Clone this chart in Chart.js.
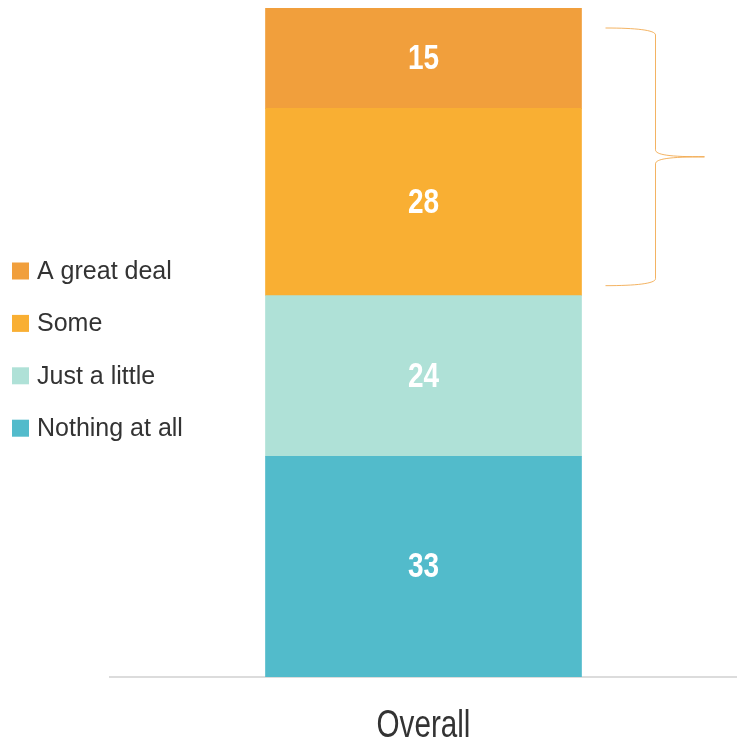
<!DOCTYPE html>
<html>
<head>
<meta charset="utf-8">
<script src="https://cdn.jsdelivr.net/npm/chart.js@4.4.1/dist/chart.umd.min.js"></script>
<style>
  html, body { margin: 0; padding: 0; background: #fff; }
  #wrap { width: 737px; height: 739px; }
</style>
</head>
<body>
<div id="wrap"><canvas id="chart"></canvas></div>
<script>
const categories = ['Overall'];
// stacked bottom -> top
const seriesNames = ['Nothing at all', 'Just a little', 'Some', 'A great deal'];
const seriesValues = [[33], [24], [28], [15]];
const seriesColors = ['#52BBCB', '#AFE1D7', '#F9AF33', '#F19F3C'];
// the brace groups the top two answers
const braceSeries = ['Some', 'A great deal'];

const FONT = '"Liberation Sans", Arial, sans-serif';

// text squeezed sideways, the original uses a narrow face
function narrowText(ctx, text, x, y, sx) {
    ctx.save();
    ctx.translate(x, y);
    ctx.scale(sx, 1);
    ctx.fillText(text, 0, 0);
    ctx.restore();
}

// white numbers in the middle of each segment
const segmentLabels = {
    id: 'segmentLabels',
    afterDatasetsDraw(chart) {
        const ctx = chart.ctx;
        ctx.save();
        ctx.fillStyle = '#fff';
        ctx.font = 'bold 35px ' + FONT;
        ctx.textAlign = 'center';
        ctx.textBaseline = 'middle';
        chart.data.datasets.forEach((ds, i) => {
            chart.getDatasetMeta(i).data.forEach((bar, j) => {
                const y = (bar.y + bar.base) / 2;
                narrowText(ctx, String(ds.data[j]), bar.x, y + 1, 0.8);
            });
        });
        ctx.restore();
    }
};

// category name under the axis
const categoryLabels = {
    id: 'categoryLabels',
    afterDraw(chart) {
        const ctx = chart.ctx;
        const xScale = chart.scales.x;
        ctx.save();
        ctx.fillStyle = '#333';
        ctx.font = '38px ' + FONT;
        ctx.textAlign = 'center';
        ctx.textBaseline = 'alphabetic';
        chart.data.labels.forEach((lab, i) => {
            narrowText(ctx, lab, xScale.getPixelForValue(i), chart.chartArea.bottom + 60, 0.78);
        });
        ctx.restore();
    }
};

// curly brace to the right of the bar
const bracePlugin = {
    id: 'brace',
    afterDatasetsDraw(chart) {
        const yScale = chart.scales.y;
        const idx = braceSeries.map(n => seriesNames.indexOf(n));
        const lowIdx = Math.min(...idx);
        let base = 0;
        for (let i = 0; i < lowIdx; i++) base += seriesValues[i][0];
        let top = base;
        idx.forEach(i => top += seriesValues[i][0]);

        const bar = chart.getDatasetMeta(0).data[0];
        const right = bar.x + bar.width / 2;
        const y0 = yScale.getPixelForValue(top) + 20;
        const y1 = yScale.getPixelForValue(base) - 10;
        const ym = (y0 + y1) / 2;
        const xs = right + 24, xv = right + 74, xt = right + 123;

        const ctx = chart.ctx;
        ctx.save();
        ctx.strokeStyle = 'rgba(240,160,60,0.8)';
        ctx.lineWidth = 1;
        ctx.beginPath();
        ctx.moveTo(xs, y0);
        ctx.bezierCurveTo(xs + 30, y0, xv, y0 + 2, xv, y0 + 7);
        ctx.lineTo(xv, ym - 7);
        ctx.bezierCurveTo(xv, ym - 2, xv + 14, ym, xt, ym);
        ctx.moveTo(xt, ym);
        ctx.bezierCurveTo(xv + 14, ym, xv, ym + 2, xv, ym + 7);
        ctx.lineTo(xv, y1 - 7);
        ctx.bezierCurveTo(xv, y1 - 2, xs + 30, y1, xs, y1);
        ctx.stroke();
        ctx.restore();
    }
};

// legend on the left, top entry first
const sideLegend = {
    id: 'sideLegend',
    afterDraw(chart) {
        const ctx = chart.ctx;
        ctx.save();
        ctx.font = '25px ' + FONT;
        ctx.textBaseline = 'middle';
        ctx.textAlign = 'left';
        const n = seriesNames.length;
        for (let k = 0; k < n; k++) {
            const i = n - 1 - k;
            const cy = 271 + k * 52.4;
            ctx.fillStyle = seriesColors[i];
            ctx.fillRect(12, cy - 8.5, 17, 17);
            ctx.fillStyle = '#333';
            ctx.fillText(seriesNames[i], 37, cy + 1);
        }
        ctx.restore();
    }
};

new Chart(document.getElementById('chart'), {
    type: 'bar',
    data: {
        labels: categories,
        datasets: seriesNames.map((name, i) => ({
            label: name,
            data: seriesValues[i],
            backgroundColor: seriesColors[i],
            borderWidth: 0,
            barThickness: 316
        }))
    },
    options: {
        responsive: true,
        maintainAspectRatio: false,
        animation: false,
        layout: { padding: { left: 110, top: 8, right: 0, bottom: 54 } },
        plugins: {
            legend: { display: false },
            tooltip: { enabled: false }
        },
        scales: {
            x: {
                stacked: true,
                grid: { display: false },
                border: { display: true, color: '#dcdcdc', width: 2 },
                ticks: { display: false }
            },
            y: {
                stacked: true,
                display: false,
                min: 0,
                max: 100
            }
        }
    },
    plugins: [segmentLabels, categoryLabels, bracePlugin, sideLegend]
});
</script>
</body>
</html>
